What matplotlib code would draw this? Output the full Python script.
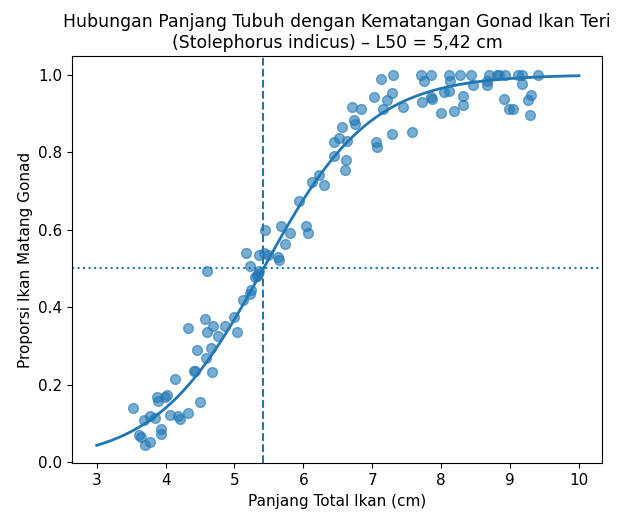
import matplotlib
matplotlib.use("Agg")
import matplotlib.pyplot as plt
import numpy as np

# panjang total (cm) dan proporsi matang gonad
panjang = [4.575, 4.32, 4.69, 4.60, 4.865, 4.99, 4.76, 5.04, 5.12, 4.45,
           4.66, 4.58, 4.42, 4.41, 4.68, 4.14, 3.88, 3.99, 3.89, 4.02,
           4.50, 3.53, 4.07, 4.18, 4.21, 4.33, 3.68, 3.78, 3.85, 3.94,
           3.94, 3.61, 3.65, 3.70, 3.77, 4.60, 5.24, 5.22, 5.30, 5.34,
           5.36, 5.32, 5.22, 5.17, 5.35, 5.43, 5.48, 5.63, 5.64, 5.45,
           5.68, 5.81, 5.74, 6.04, 6.07, 5.93, 6.13, 6.30, 6.22, 6.44,
           6.60, 6.62, 6.45, 6.52, 6.63, 6.56, 6.74, 6.75, 6.71, 6.84,
           7.06, 7.07, 7.29, 7.58, 7.03, 7.15, 7.21, 7.28, 7.45, 7.12,
           7.30, 7.71, 7.85, 7.75, 7.72, 7.85, 7.87, 7.99, 8.11, 8.13,
           8.28, 8.43, 8.04, 8.11, 8.46, 8.19, 8.32, 8.32, 8.70, 8.81,
           8.84, 8.93, 9.12, 9.17, 9.40, 8.66, 8.66, 9.18, 8.91, 8.99,
           9.04, 9.30, 9.26, 9.29]
proporsi = [0.370, 0.345, 0.351, 0.337, 0.352, 0.375, 0.326, 0.337, 0.419, 0.289,
            0.294, 0.268, 0.236, 0.235, 0.232, 0.214, 0.169, 0.169, 0.158, 0.173,
            0.155, 0.139, 0.121, 0.120, 0.111, 0.128, 0.110, 0.120, 0.115, 0.085,
            0.072, 0.070, 0.065, 0.044, 0.053, 0.494, 0.444, 0.434, 0.479, 0.485,
            0.494, 0.480, 0.506, 0.539, 0.535, 0.539, 0.535, 0.529, 0.522, 0.598,
            0.610, 0.591, 0.563, 0.610, 0.591, 0.673, 0.724, 0.716, 0.742, 0.789,
            0.755, 0.780, 0.825, 0.836, 0.828, 0.865, 0.882, 0.873, 0.917, 0.910,
            0.825, 0.812, 0.848, 0.852, 0.942, 0.911, 0.935, 0.952, 0.917, 0.989,
            1.000, 1.000, 1.000, 0.983, 0.929, 0.942, 0.937, 0.901, 1.000, 0.983,
            1.000, 1.000, 0.955, 0.957, 0.972, 0.905, 0.946, 0.922, 1.000, 1.000,
            1.000, 1.000, 1.000, 1.000, 1.000, 0.983, 0.972, 0.975, 0.937, 0.911,
            0.910, 0.948, 0.934, 0.897]

# parameter kurva logistik
L50 = 5.42
slope = 1.28
x_min, x_max = 3, 10

fig = plt.figure(figsize=(6.32, 5.13), dpi=100)
ax = fig.add_axes([0.1144, 0.0969, 0.8377, 0.7939])

ax.scatter(panjang, proporsi, s=50, alpha=0.6, color="C0")
x_fit = np.linspace(x_min, x_max, 200)
y_fit = 1 / (1 + np.exp(-slope * (x_fit - L50)))
ax.plot(x_fit, y_fit, color="C0", lw=2)
ax.axvline(L50, color="C0", ls="--", lw=1.5)
ax.axhline(0.5, color="C0", ls=":", lw=1.5)

ax.set_xlim(2.646, 10.33)
ax.set_ylim(-0.003, 1.048)

ax.set_title("Hubungan Panjang Tubuh dengan Kematangan Gonad Ikan Teri\n"
             "(Stolephorus indicus) – L50 = 5,42 cm", fontsize=12.4)
ax.set_xlabel("Panjang Total Ikan (cm)", fontsize=11)
ax.set_ylabel("Proporsi Ikan Matang Gonad", fontsize=11)
ax.tick_params(labelsize=11)

fig.savefig("out.png", dpi=100)
